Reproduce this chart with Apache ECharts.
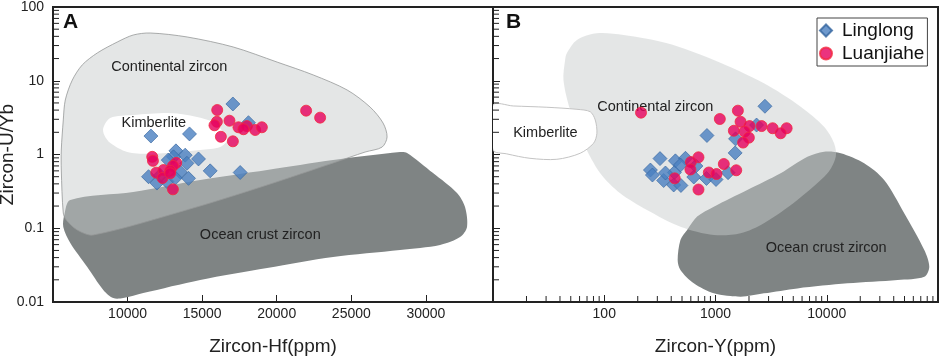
<!DOCTYPE html>
<html>
<head>
<meta charset="utf-8">
<script src="https://cdn.jsdelivr.net/npm/echarts@6/dist/echarts.min.js"></script>
<style>
html,body{margin:0;padding:0;background:#fff;}
#chart{width:941px;height:357px;}
</style>
</head>
<body>
<div id="chart"></div>
<script>
// ---------- data ----------
// Panel A: Zircon-Hf (ppm) vs Zircon-U/Yb
const linglongA = [
  [17060,4.84],[11566,1.78],[14152,1.90],[18105,2.70],[13241,1.12],[13864,0.98],
  [14755,0.87],[13080,0.93],[13978,0.76],[15539,0.60],[17549,0.57],[11405,0.50],
  [11968,0.41],[14085,0.475],[12638,0.43],[13529,0.58],[12725,0.84],[13197,0.48],[12189,0.52]
];
const luanjiaheA = [
  [16010,4.01],[21970,3.93],[22909,3.16],[16832,2.87],[15988,2.78],[15827,2.49],
  [17435,2.34],[17998,2.43],[17770,2.20],[18554,2.15],[19003,2.34],[16256,1.74],
  [17060,1.51],[11653,0.93],[11700,0.82],[13261,0.77],[13040,0.70],[11921,0.567],
  [12410,0.616],[12859,0.60],[12343,0.48],[12859,0.556],[13040,0.337]
];
// Panel B: Zircon-Y (ppm) vs Zircon-U/Yb
const linglongB = [
  [2782,4.51],[838,1.81],[2340,2.51],[1514,1.63],[1502,1.05],[317,0.88],[436,0.82],
  [537,0.888],[260,0.616],[271,0.527],[342,0.444],[427,0.570],[484,0.721],[667,0.698],
  [421,0.386],[489,0.380],[638,0.495],[830,0.473],[1011,0.458],[1297,0.567],[355,0.561]
];
const luanjiaheB = [
  [214,3.69],[1094,3.03],[1589,3.93],[1680,2.78],[2024,2.43],[2597,2.43],[3263,2.27],
  [4360,2.27],[3850,1.94],[1462,2.10],[1825,2.04],[1995,1.69],[1770,1.45],[703,0.916],
  [601,0.79],[595,0.626],[1188,0.743],[871,0.570],[1021,0.544],[1536,0.611],[430,0.475],[703,0.335]
];

// Discrimination fields (vertices in data units)
const continentalA = [
  [5690,0.161],[5556,0.616],[5556,1.15],[5690,2.94],[5824,5.48],[6293,10.2],[6963,16.4],
  [7968,23.8],[9308,33.5],[10380,41.7],[11519,44.4],[13998,39.2],[17079,28.7],[20028,17.9],
  [22440,12.0],[24718,7.5],[26259,4.4],[27130,2.67],[27398,1.73],[27063,1.26],[25924,1.08],
  [23780,0.767],[19358,0.386],[14400,0.188],[7700,0.081],[6628,0.0946],[5891,0.129]
];
const kimberliteA = [
  [8370,2.29],[8839,3.13],[10380,3.43],[12658,3.65],[13998,3.43],[15740,2.76],[16410,2.02],
  [16678,1.57],[16209,1.26],[14869,1.15],[12658,1.05],[11318,1.02],[9978,1.08],[8839,1.43],[8437,1.84]
];
const oceanA = [
  [5757,0.151],[6159,0.242],[10380,0.310],[14869,0.451],[19358,0.616],[23780,0.842],
  [28269,1.08],[28738,1.05],[30480,0.561],[32088,0.301],[32624,0.194],[32758,0.104],
  [32289,0.076],[30949,0.0593],[28269,0.0507],[23780,0.0407],[19358,0.0289],[14869,0.0199],
  [11050,0.0132],[9710,0.0113],[9040,0.0113],[8370,0.0146],[7298,0.0298],[6159,0.063],[5690,0.104]
];
const continentalB = [
  [44.5,19.1],[43.0,10.2],[49.4,4.01],[65.1,1.42],[92,0.556],[139,0.298],[242,0.177],
  [484,0.105],[966,0.081],[1680,0.0855],[2723,0.117],[5445,0.242],[10140,0.556],[12050,0.933],
  [11640,1.42],[9460,2.38],[5830,4.45],[2723,9.23],[966,19.1],[367,32.2],[149,41.7],
  [85.9,44.0],[56.8,35.7],[46.1,23.6]
];
const kimberliteB = [
  [10,4.69],[15.2,4.55],[30.5,4.37],[56.8,4.10],[74.8,3.80],[83,2.94],[85.9,1.94],
  [80.1,1.42],[60.8,1.04],[37.5,0.861],[21.5,0.888],[13.3,1.02],[10,1.15]
];
const oceanB = [
  [556,0.0946],[484,0.0693],[457,0.0371],[484,0.0272],[638,0.0179],[966,0.0131],
  [1680,0.0118],[2723,0.0131],[5445,0.0153],[15350,0.0179],[43350,0.0199],[75300,0.022],
  [83500,0.0301],[75300,0.0507],[49700,0.16],[32800,0.451],[21700,0.76],[13370,1.04],
  [9460,1.09],[6700,0.93],[3850,0.556],[1930,0.33],[966,0.196],[684,0.144]
];

// Field labels
const fieldNames = ['Continental zircon','Kimberlite','Ocean crust zircon'];
const fieldPosA = [[12798,15.4],[11759,2.67],[18899,0.081]];
const fieldPosB = [[288,4.45],[29.6,1.98],[9890,0.0545]];

// Tick labels
const xTickLabelsA = [10000,15000,20000,25000,30000];
const xTickLabelsB = [100,1000,10000];
const yTickLabels = [0.01,0.1,1,10,100];
const minorMultipliers = [2,3,4,5,6,7,8,9];
const yDecades = [0.01,0.1,1,10];
const xDecadesB = [10,100,1000,10000];

// ---------- chart ----------
const FONT = '"Liberation Sans", Arial, sans-serif';
const AX = '#222';
function minors(decades){
  const out = [];
  decades.forEach(d => minorMultipliers.forEach(m => out.push(+(m*d).toPrecision(3))));
  return out;
}
const yMinor = minors(yDecades);
const xMinorB = minors(xDecadesB);

function polySeries(pts, idx, style, z){
  return {
    type:'custom', xAxisIndex:idx, yAxisIndex:idx, data:pts, z:z, silent:true, clip:true,
    renderItem:function(params, api){
      if (params.dataIndex !== 0) return;
      return {type:'polygon', shape:{points: pts.map(p => api.coord(p)), smooth:0.3}, style:style};
    }
  };
}
function labelSeries(pos, idx){
  return {
    type:'custom', xAxisIndex:idx, yAxisIndex:idx, data:pos, z:5, silent:true,
    renderItem:function(params, api){
      const p = api.coord([api.value(0), api.value(1)]);
      return {type:'text', x:p[0], y:p[1],
        style:{text:fieldNames[params.dataIndex], fill:'#222', fontSize:14.5, fontFamily:FONT,
               align:'center', verticalAlign:'middle'}};
    }
  };
}
function yMinorSeries(idx, xmin){
  return {
    type:'custom', xAxisIndex:idx, yAxisIndex:idx, data:yMinor.map(v => [xmin, v]), z:20, silent:true,
    renderItem:function(params, api){
      const p = api.coord([api.value(0), api.value(1)]);
      return {type:'line', shape:{x1:p[0], y1:p[1], x2:p[0]+6, y2:p[1]}, style:{stroke:AX, lineWidth:1}};
    }
  };
}
function xMinorSeries(idx, ymin){
  return {
    type:'custom', xAxisIndex:idx, yAxisIndex:idx, data:xMinorB.map(v => [v, ymin]), z:20, silent:true,
    renderItem:function(params, api){
      const p = api.coord([api.value(0), api.value(1)]);
      return {type:'line', shape:{x1:p[0], y1:p[1], x2:p[0], y2:p[1]-6}, style:{stroke:AX, lineWidth:1}};
    }
  };
}

const oceanStyle = {fill:'#7f8484'};
const contStyleA = {fill:'rgba(199,203,203,0.48)', stroke:'rgba(150,152,152,0.8)', lineWidth:1};
const contStyleB = {fill:'rgba(199,203,203,0.48)'};
const kimbStyleA = {fill:'#ffffff'};
const kimbStyleB = {fill:'#ffffff', stroke:'#c4c4c4', lineWidth:1};

const diamondStyle = {color:'#4a7fc1', borderColor:'#34659f', borderWidth:0.8};
const circleStyle = {color:'#e6005e', borderColor:'#f2283f', borderWidth:1};

function fmt(list){ return v => list.some(t => Math.abs(t - v) < 1e-9 * Math.max(1, t)) ? String(+(+v).toPrecision(6)) : ''; }

const yAxisBase = {
  type:'log', logBase:10, min:0.01, max:100, interval:1,
  axisLine:{show:true, lineStyle:{color:AX, width:2}},
  axisTick:{show:true, inside:true, length:7, lineStyle:{color:AX, width:1}},
  splitLine:{show:false}
};

const chart = echarts.init(document.getElementById('chart'), null, {renderer:'canvas'});
chart.setOption({
  animation:false,
  backgroundColor:'#fff',
  textStyle:{fontFamily:FONT},
  grid:[
    {left:53, top:7, width:440, height:295, show:true, borderColor:AX, borderWidth:2, backgroundColor:'transparent', outerBoundsMode:'none', containLabel:false},
    {left:493, top:7, width:445, height:295, show:true, borderColor:AX, borderWidth:2, backgroundColor:'transparent', outerBoundsMode:'none', containLabel:false}
  ],
  xAxis:[
    {type:'value', gridIndex:0, min:5000, max:34500, interval:5000,
     name:'Zircon-Hf(ppm)', nameLocation:'middle', nameGap:35, nameMoveOverlap:false,
     nameTextStyle:{fontSize:19, color:'#222', fontFamily:FONT},
     axisLine:{show:true, lineStyle:{color:AX, width:2}},
     axisTick:{show:true, inside:true, length:7, lineStyle:{color:AX, width:1}},
     axisLabel:{margin:5, fontSize:14, color:'#222', fontFamily:FONT, formatter:fmt(xTickLabelsA)},
     splitLine:{show:false}},
    {type:'log', logBase:10, gridIndex:1, min:10, max:100000, interval:1,
     name:'Zircon-Y(ppm)', nameLocation:'middle', nameGap:35, nameMoveOverlap:false,
     nameTextStyle:{fontSize:19, color:'#222', fontFamily:FONT},
     axisLine:{show:true, lineStyle:{color:AX, width:2}},
     axisTick:{show:true, inside:true, length:7, lineStyle:{color:AX, width:1}},
     axisLabel:{margin:5, fontSize:14, color:'#222', fontFamily:FONT, formatter:fmt(xTickLabelsB)},
     splitLine:{show:false}}
  ],
  yAxis:[
    Object.assign({}, yAxisBase, {gridIndex:0, name:'Zircon-U/Yb', nameLocation:'middle', nameGap:36, nameMoveOverlap:false,
      nameTextStyle:{fontSize:19, color:'#222', fontFamily:FONT},
      axisLabel:{margin:9, fontSize:14, color:'#222', fontFamily:FONT, formatter:fmt(yTickLabels)}}),
    Object.assign({}, yAxisBase, {gridIndex:1, axisLabel:{show:false}})
  ],
  legend:{
    left:817, top:18, orient:'vertical',
    data:[{name:'Linglong', icon:'diamond'},{name:'Luanjiahe', icon:'circle'}],
    itemWidth:12, itemHeight:12, itemGap:4,
    padding:[3,3,3,2],
    backgroundColor:'#fff', borderColor:'#444', borderWidth:1, borderRadius:0,
    textStyle:{fontSize:19, color:'#111', fontFamily:FONT, padding:[0,0,0,5]}
  },
  graphic:[
    {type:'text', left:63, top:12, z:100, style:{text:'A', font:'bold 21px ' + FONT, fill:'#111'}},
    {type:'text', left:506, top:12, z:100, style:{text:'B', font:'bold 21px ' + FONT, fill:'#111'}}
  ],
  series:[
    polySeries(oceanA, 0, oceanStyle, 1),
    polySeries(continentalA, 0, contStyleA, 2),
    polySeries(kimberliteA, 0, kimbStyleA, 3),
    polySeries(oceanB, 1, oceanStyle, 1),
    polySeries(continentalB, 1, contStyleB, 2),
    polySeries(kimberliteB, 1, kimbStyleB, 3),
    labelSeries(fieldPosA, 0),
    labelSeries(fieldPosB, 1),
    yMinorSeries(0, 5000),
    yMinorSeries(1, 10),
    xMinorSeries(1, 0.01),
    {name:'Linglong', type:'scatter', xAxisIndex:0, yAxisIndex:0, data:linglongA, symbol:'diamond', symbolSize:14, itemStyle:diamondStyle, z:10},
    {name:'Linglong', type:'scatter', xAxisIndex:1, yAxisIndex:1, data:linglongB, symbol:'diamond', symbolSize:14, itemStyle:diamondStyle, z:10},
    {name:'Luanjiahe', type:'scatter', xAxisIndex:0, yAxisIndex:0, data:luanjiaheA, symbol:'circle', symbolSize:11, itemStyle:circleStyle, z:11},
    {name:'Luanjiahe', type:'scatter', xAxisIndex:1, yAxisIndex:1, data:luanjiaheB, symbol:'circle', symbolSize:11, itemStyle:circleStyle, z:11}
  ]
});
</script>
</body>
</html>
